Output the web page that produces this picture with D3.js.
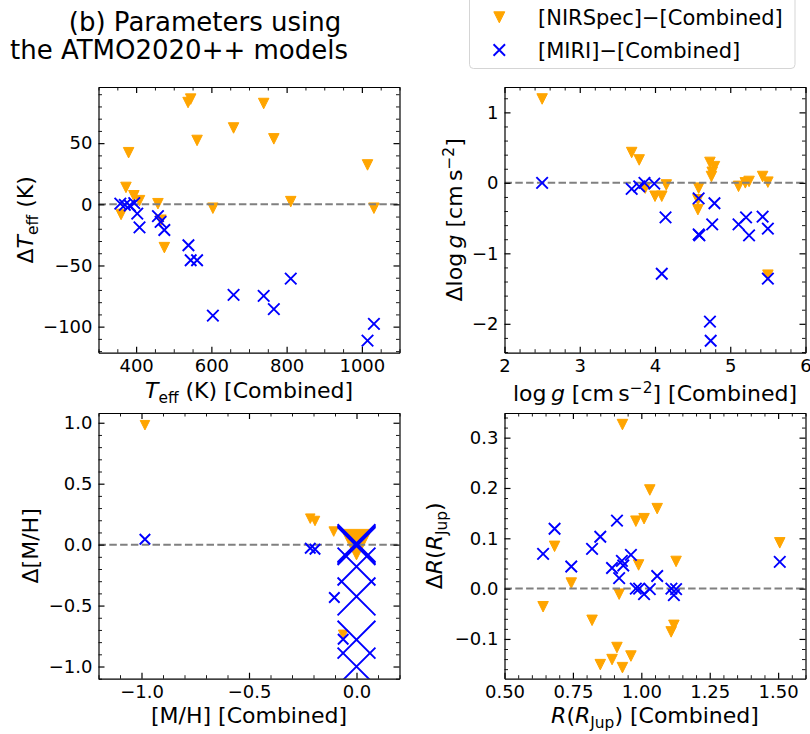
<!DOCTYPE html>
<html><head><meta charset="utf-8">
<script src="https://cdn.jsdelivr.net/npm/d3@7"></script>
<style>body{margin:0;background:#fff} svg{display:block} text{font-family:"DejaVu Sans",sans-serif}</style>
</head><body><svg id="c" width="810" height="734"></svg>
<script>
// ---------------- DATA ----------------
// Panel 1: Teff (K) [Combined] vs ΔTeff
const teffNirX  = [360, 373, 380, 394, 409, 458, 466, 475, 538, 545, 562, 604, 659, 739, 766, 811, 1015, 1032];
const teffNirD  = [-8.3, 13.8, 42.2, 7.0, 3.0, 0.5, -13, -35.4, 83.2, 86, 52.2, -3.2, 62.4, 82.4, 53.5, 2.2, 32.2, -3.2];
const teffMiriX = [358, 370, 383, 395, 403, 409, 458, 465, 475, 539, 545, 562, 604, 659, 739, 766, 811, 1015, 1032];
const teffMiriD = [0.5, -0.5, -1.0, 1.0, -7.6, -18.9, -9.7, -14.3, -21, -33.5, -45.7, -45.7, -91, -74, -74.9, -85.7, -60.8, -111.4, -97.8];
// Panel 2: log g [Combined] vs Δlog g
const loggNirX  = [2.5, 3.69, 3.79, 3.87, 4.0, 4.09, 4.15, 4.58, 4.57, 4.57, 4.73, 4.79, 4.76, 4.75, 5.11, 5.2, 5.25, 5.43, 5.5, 5.5];
const loggNirD  = [1.19, 0.43, 0.325, -0.075, -0.19, -0.19, -0.03, -0.075, -0.24, -0.38, 0.29, 0.23, 0.15, 0.09, -0.05, 0.0, 0.02, 0.09, 0.01, -1.31];
const loggMiriX = [2.5, 3.69, 3.79, 3.86, 3.99, 4.14, 4.09, 4.58, 4.58, 4.59, 4.79, 4.76, 4.73, 4.74, 5.11, 5.21, 5.25, 5.43, 5.5, 5.5];
const loggMiriD = [0, -0.085, -0.05, 0, -0.01, -0.49, -1.29, -0.22, -0.73, -0.745, -0.29, -0.59, -1.97, -2.24, -0.59, -0.49, -0.745, -0.48, -0.65, -1.36];
// Panel 3: [M/H] [Combined] vs Δ[M/H]; N = number of objects represented by a marker
const mhNirX  = [-0.984, -0.215, -0.193, -0.106, 0.0, -0.062];
const mhNirD  = [0.98, 0.213, 0.194, 0.107, 0.0, -0.74];
const mhNirN  = [1, 1, 1, 1, 9, 1];
const mhMiriX = [-0.984, -0.215, -0.193, -0.103, -0.062, 0.0, 0.0, 0.0, 0.0, 0.0, 0.0, 0.0];
const mhMiriD = [0.044, -0.03, -0.038, -0.434, -0.776, 0.012, 0.0, -0.012, -0.18, -0.425, -0.78, -1.0];
const mhMiriN = [1, 1, 1, 1, 1, 13, 13, 13, 13, 13, 13, 13];
// Panel 4: R (RJup) [Combined] vs ΔR
const radNirX  = [0.931, 1.031, 1.058, 0.980, 1.010, 0.683, 0.990, 1.127, 1.506, 0.744, 0.919, 0.641, 0.820, 1.119, 1.109, 0.911, 0.962, 0.893, 0.850, 0.931];
const radNirD  = [0.326, 0.196, 0.159, 0.134, 0.139, 0.084, 0.047, 0.054, 0.091, 0.011, -0.011, -0.036, -0.063, -0.073, -0.086, -0.117, -0.134, -0.141, -0.151, -0.157];
const radMiriX = [0.641, 0.683, 0.744, 0.820, 0.850, 0.911, 0.893, 0.919, 0.929, 0.934, 0.962, 0.980, 0.992, 1.010, 1.031, 1.058, 1.110, 1.127, 1.119, 1.506];
const radMiriD = [0.069, 0.119, 0.044, 0.079, 0.103, 0.135, 0.041, 0.021, 0.055, 0.046, 0.067, 0.0, 0.0, -0.011, -0.001, 0.025, 0.0, -0.001, -0.013, 0.053];

// tick labels / values
const teffXTicks = [400, 600, 800, 1000], teffYTicks = [-100, -50, 0, 50];
const loggXTicks = [2, 3, 4, 5, 6], loggYTicks = [-2, -1, 0, 1];
const mhXTicks = [-1.0, -0.5, 0.0], mhYTicks = [-1.0, -0.5, 0.0, 0.5, 1.0];
const radXTicks = [0.5, 0.75, 1.0, 1.25, 1.5], radYTicks = [-0.1, 0.0, 0.1, 0.2, 0.3];

const titleLines = ["(b) Parameters using", "the ATMO2020++ models"];
const legendLabels = ["[NIRSpec]\u2212[Combined]", "[MIRI]\u2212[Combined]"];

// ---------------- DRAW ----------------
const svg = d3.select("#c");
const ORANGE = "#FFA500", BLUE = "#0000FF";
const BASE = 11.5;
const zip = (a, b, c) => a.map((v, i) => [v, b[i], c ? c[i] : 1]);
const tri = s => `M${-s/2},${-s/2}L${s/2},${-s/2}L0,${s/2}Z`;
const cross = s => { const h = s/2; return `M${-h},${-h}L${h},${h}M${-h},${h}L${h},${-h}`; };

function rich(sel, segs, fs) {
  let off = 0;
  segs.forEach(s => {
    const t = sel.append("tspan").text(s.t);
    let target = 0, size = fs;
    if (s.sub) { target = 0.22 * fs; size = fs * 0.7; }
    if (s.sup) { target = -0.38 * fs; size = fs * 0.7; }
    t.attr("font-size", size);
    if (target !== off) { t.attr("dy", target - off); off = target; }
    if (s.i) t.attr("font-style", "italic");
  });
}

function minors(dom, step, majors) {
  const k0 = Math.ceil(dom[0] / step - 1e-9), k1 = Math.floor(dom[1] / step + 1e-9);
  const out = [];
  for (let k = k0; k <= k1; k++) {
    const v = +(k * step).toFixed(6);
    if (!majors.some(m => Math.abs(m - v) < step * 0.01)) out.push(v);
  }
  return out;
}

let clipId = 0;
function panel(c) {
  const x = d3.scaleLinear().domain(c.xd).range([c.l, c.r]);
  const y = d3.scaleLinear().domain(c.yd).range([c.b, c.t]);
  const id = "clip" + (clipId++);
  svg.append("clipPath").attr("id", id).append("rect")
    .attr("x", c.l).attr("y", c.t).attr("width", c.r - c.l).attr("height", c.b - c.t);
  const plot = svg.append("g").attr("clip-path", `url(#${id})`);
  const sz = c.size || (() => BASE);

  plot.append("g").selectAll("path").data(c.nir).join("path")
    .attr("transform", d => `translate(${x(d[0])},${y(d[1])})`)
    .attr("d", d => tri(sz(d[2]) - 1))
    .attr("fill", ORANGE).attr("stroke", ORANGE).attr("stroke-width", 1).attr("stroke-linejoin", "miter");

  plot.append("line").attr("x1", c.l).attr("x2", c.r).attr("y1", y(0)).attr("y2", y(0))
    .attr("stroke", "#808080").attr("stroke-width", 2).attr("stroke-dasharray", "7.5,3.3");

  plot.append("g").selectAll("path").data(c.miri).join("path")
    .attr("transform", d => `translate(${x(d[0])},${y(d[1])})`)
    .attr("d", d => cross(sz(d[2])))
    .attr("fill", "none").attr("stroke", BLUE).attr("stroke-width", 1.9);

  const styleAxis = (g, w) => {
    g.attr("font-size", null).attr("font-family", null);
    g.selectAll(".tick line").attr("stroke", "#000").attr("stroke-width", w);
    g.selectAll(".domain").attr("stroke", "#000").attr("stroke-width", 1.2);
    g.selectAll(".tick text").attr("font-size", 18).attr("fill", "#000");
  };
  const xm = minors(c.xd, c.xs, c.xt), ym = minors(c.yd, c.ys, c.yt);
  const addAx = (gen, tr, vals, size, fmt, w, keepDomain, pad) => {
    const a = gen.tickValues(vals).tickSizeInner(-size).tickSizeOuter(0).tickFormat(fmt || "");
    if (pad !== undefined) a.tickPadding(pad);
    const g = svg.append("g").attr("transform", tr).call(a);
    if (!keepDomain) g.select(".domain").remove();
    styleAxis(g, w);
    return g;
  };
  addAx(d3.axisBottom(x), `translate(0,${c.b})`, xm, 3.5, null, 0.9, false);
  addAx(d3.axisTop(x), `translate(0,${c.t})`, xm, 3.5, null, 0.9, false);
  addAx(d3.axisLeft(y), `translate(${c.l},0)`, ym, 3.5, null, 0.9, false);
  addAx(d3.axisRight(y), `translate(${c.r},0)`, ym, 3.5, null, 0.9, false);
  addAx(d3.axisBottom(x), `translate(0,${c.b})`, c.xt, 6, c.xf, 1.2, true, 6.7);
  addAx(d3.axisTop(x), `translate(0,${c.t})`, c.xt, 6, null, 1.2, true);
  addAx(d3.axisLeft(y), `translate(${c.l},0)`, c.yt, 6, c.yf, 1.2, true, 6);
  addAx(d3.axisRight(y), `translate(${c.r},0)`, c.yt, 6, null, 1.2, true);

  const xl = svg.append("text").attr("x", (c.l + c.r) / 2).attr("y", c.xlY)
    .attr("text-anchor", "middle").attr("font-size", 22).attr("fill", "#000");
  rich(xl, c.xl, 22);
  const yl = svg.append("text").attr("transform", `translate(${c.ylX},${(c.t + c.b) / 2}) rotate(-90)`)
    .attr("text-anchor", "middle").attr("font-size", 22).attr("fill", "#000");
  rich(yl, c.yl, 22);
}

const L1 = 98.5, R1 = 399.5, L2 = 504.5, R2 = 805.5;
const T1 = 87, B1 = 352.7, T2 = 413, B2 = 678.7;
const fInt = d3.format("d"), f1 = d3.format(".1f"), f2 = d3.format(".2f");

panel({l: L1, r: R1, t: T1, b: B1, xd: [300, 1100], yd: [-121.3, 95.9],
  xt: teffXTicks, yt: teffYTicks, xs: 50, ys: 10, xf: fInt, yf: fInt,
  nir: zip(teffNirX, teffNirD), miri: zip(teffMiriX, teffMiriD),
  xlY: 398, ylX: 33,
  xl: [{t: "T", i: 1}, {t: "eff", sub: 1}, {t: " (K) [Combined]"}],
  yl: [{t: "\u0394"}, {t: "T", i: 1}, {t: "eff", sub: 1}, {t: " (K)"}]});

panel({l: L2, r: R2, t: T1, b: B1, xd: [2, 6], yd: [-2.41, 1.36],
  xt: loggXTicks, yt: loggYTicks, xs: 0.2, ys: 0.2, xf: fInt, yf: fInt,
  nir: zip(loggNirX, loggNirD), miri: zip(loggMiriX, loggMiriD),
  xlY: 401, ylX: 462,
  xl: [{t: "log\u2009"}, {t: "g", i: 1}, {t: " [cm\u2009s"}, {t: "\u22122", sup: 1}, {t: "] [Combined]"}],
  yl: [{t: "\u0394log\u2009"}, {t: "g", i: 1}, {t: " [cm\u2009s"}, {t: "\u22122", sup: 1}, {t: "]"}]});

const mhSize = d3.scaleSqrt().domain([0, 1]).range([0, 10.5]);
panel({l: L1, r: R1, t: T2, b: B2, xd: [-1.2, 0.2], yd: [-1.1, 1.08],
  xt: mhXTicks, yt: mhYTicks, xs: 0.1, ys: 0.1, xf: f1, yf: f1,
  nir: zip(mhNirX, mhNirD, mhNirN), miri: zip(mhMiriX, mhMiriD, mhMiriN), size: mhSize,
  xlY: 723, ylX: 38,
  xl: [{t: "[M/H] [Combined]"}],
  yl: [{t: "\u0394[M/H]"}]});

panel({l: L2, r: R2, t: T2, b: B2, xd: [0.5, 1.6], yd: [-0.179, 0.349],
  xt: radXTicks, yt: radYTicks, xs: 0.05, ys: 0.02, xf: f2, yf: f1,
  nir: zip(radNirX, radNirD), miri: zip(radMiriX, radMiriD),
  xlY: 723, ylX: 442,
  xl: [{t: "R", i: 1}, {t: "("}, {t: "R", i: 1}, {t: "Jup", sub: 1}, {t: ") [Combined]"}],
  yl: [{t: "\u0394"}, {t: "R", i: 1}, {t: "("}, {t: "R", i: 1}, {t: "Jup", sub: 1}, {t: ")"}]});

// title
svg.append("text").attr("x", 205).attr("y", 31).attr("text-anchor", "middle")
  .attr("font-size", 26).attr("fill", "#000").text(titleLines[0]);
svg.append("text").attr("x", 179).attr("y", 59).attr("text-anchor", "middle")
  .attr("font-size", 26).attr("fill", "#000").text(titleLines[1]);

// legend
const lg = svg.append("g");
lg.append("rect").attr("x", 469.5).attr("y", -4).attr("width", 325.5).attr("height", 72.5)
  .attr("rx", 4).attr("fill", "#fff").attr("fill-opacity", 0.8).attr("stroke", "#d5d5d5").attr("stroke-width", 1);
const legRows = [{y: 17.3, mark: "tri"}, {y: 50, mark: "x"}];
legRows.forEach((r, i) => {
  if (r.mark === "tri") {
    lg.append("path").attr("transform", `translate(499.3,${r.y})`).attr("d", tri(11))
      .attr("fill", ORANGE).attr("stroke", ORANGE).attr("stroke-width", 1);
  } else {
    lg.append("path").attr("transform", `translate(499.3,${r.y})`).attr("d", cross(11.5))
      .attr("fill", "none").attr("stroke", BLUE).attr("stroke-width", 1.9);
  }
  lg.append("text").attr("x", 538).attr("y", r.y + 7.8).attr("font-size", 21).attr("fill", "#000").text(legendLabels[i]);
});
</script></body></html>
